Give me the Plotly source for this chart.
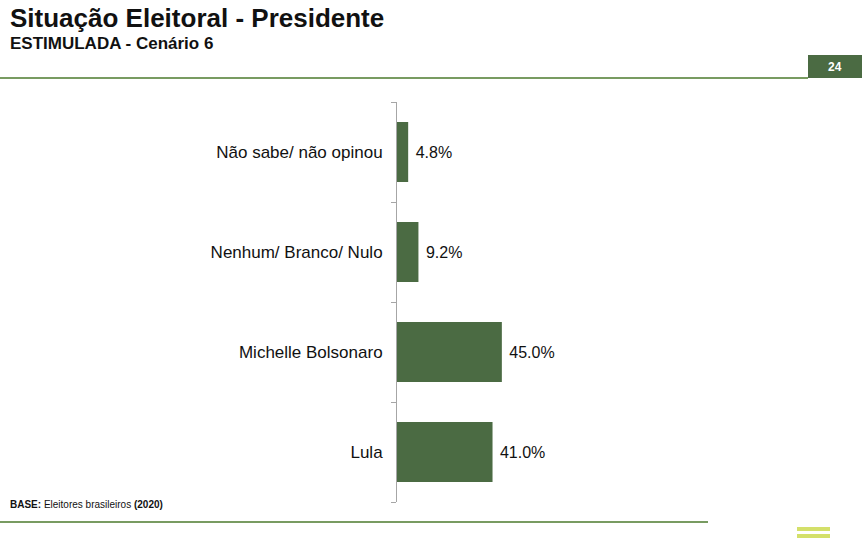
import plotly.graph_objects as go

categorias = ["Lula", "Michelle Bolsonaro", "Nenhum/ Branco/ Nulo", "Não sabe/ não opinou"]
valores = [41.0, 45.0, 9.2, 4.8]
rotulos = [f" {v:.1f}%" for v in valores]

W, H = 862, 538
fig = go.Figure()
fig.add_trace(go.Bar(
    y=categorias, x=valores, orientation="h", width=0.6,
    marker=dict(color="#4b6b43", line=dict(width=0)),
    text=rotulos, textposition="outside", cliponaxis=False,
    textfont=dict(family="Liberation Sans, Arial", size=16, color="#111"),
))

fig.update_layout(
    width=W, height=H, margin=dict(l=0, r=0, t=0, b=0),
    plot_bgcolor="white", paper_bgcolor="white", showlegend=False,
    font=dict(family="Liberation Sans, Arial"),
    xaxis=dict(domain=[397 / W, 630 / W], range=[0, 100], visible=False),
    yaxis=dict(domain=[1 - 502 / H, 1 - 102 / H], showline=True, linecolor="#a6a6a6",
               ticks="outside", tickson="boundaries", ticklen=5, tickcolor="#a6a6a6",
               tickfont=dict(size=17, color="#111"), ticklabelstandoff=10),
    shapes=[
        dict(type="line", xref="paper", yref="paper", x0=0, x1=808 / W,
             y0=1 - 78 / H, y1=1 - 78 / H, line=dict(color="#4b7a2c", width=1.5)),
        dict(type="rect", xref="paper", yref="paper", x0=808 / W, x1=1,
             y0=1 - 78 / H, y1=1 - 55 / H, fillcolor="#4b6b43", line=dict(width=0)),
        dict(type="line", xref="paper", yref="paper", x0=0, x1=708 / W,
             y0=1 - 522 / H, y1=1 - 522 / H, line=dict(color="#4b7a2c", width=1.5)),
        dict(type="rect", xref="paper", yref="paper", x0=797 / W, x1=830 / W,
             y0=1 - 531 / H, y1=1 - 527 / H, fillcolor="#d4e06a", line=dict(width=0)),
        dict(type="rect", xref="paper", yref="paper", x0=797 / W, x1=830 / W,
             y0=1 - 538 / H, y1=1 - 534 / H, fillcolor="#d4e06a", line=dict(width=0)),
    ],
    annotations=[
        dict(text="<b>Situação Eleitoral - Presidente</b>", x=8 / W, y=1 - 1 / H,
             xref="paper", yref="paper", xanchor="left", yanchor="top", showarrow=False,
             font=dict(size=26, color="#111")),
        dict(text="<b>ESTIMULADA - Cenário 6</b>", x=8 / W, y=1 - 32 / H,
             xref="paper", yref="paper", xanchor="left", yanchor="top", showarrow=False,
             font=dict(size=17, color="#111")),
        dict(text="<b>24</b>", x=835 / W, y=1 - 67 / H, xref="paper", yref="paper",
             xanchor="center", yanchor="middle",
             showarrow=False, font=dict(size=12, color="white")),
        dict(text="<b>BASE:</b> Eleitores brasileiros <b>(2020)</b>", x=8 / W, y=1 - 512 / H,
             xref="paper", yref="paper", xanchor="left", showarrow=False,
             font=dict(size=10, color="#111")),
    ],
)

fig.write_html("out.html", config={"displayModeBar": False},
               post_script="document.body.style.margin='0';")
